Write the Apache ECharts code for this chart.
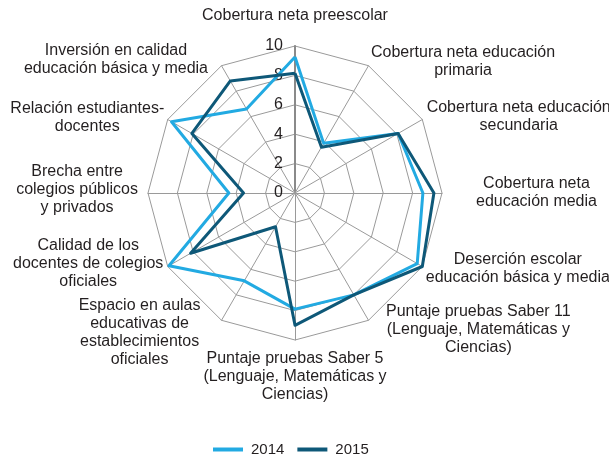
<!DOCTYPE html>
<html>
<head>
<meta charset="utf-8">
<script src="https://cdn.jsdelivr.net/npm/echarts@6/dist/echarts.min.js"></script>
<style>
  html, body { margin: 0; padding: 0; background: #fff; }
  #chart { width: 609px; height: 454px; }
</style>
</head>
<body>
<div id="chart"></div>
<script>
  // indicators, read clockwise starting at the top
  const categories = [
    'Cobertura neta preescolar',
    'Cobertura neta educación\nprimaria',
    'Cobertura neta educación\nsecundaria',
    'Cobertura neta\neducación media',
    'Deserción escolar\neducación básica y media',
    'Puntaje pruebas Saber 11\n(Lenguaje, Matemáticas y\nCiencias)',
    'Puntaje pruebas Saber 5\n(Lenguaje, Matemáticas y\nCiencias)',
    'Espacio en aulas\neducativas de\nestablecimientos\noficiales',
    'Calidad de los\ndocentes de colegios\noficiales',
    'Brecha entre\ncolegios públicos\ny privados',
    'Relación estudiantes-\ndocentes',
    'Inversión en calidad\neducación básica y media'
  ]
  const values2014 = [9.25, 3.9, 8.1, 8.7, 9.6, 8.0, 7.9, 6.9, 9.9, 4.5, 9.7, 6.6]
  const values2015 = [8.15, 3.6, 8.1, 9.45, 10.0, 8.0, 9.0, 2.65, 8.2, 3.5, 8.1, 8.8]
  const seriesNames = ['2014', '2015']
  const axisMax = 10
  const axisStep = 2

  // label placement for each indicator (same clockwise order): gap from the tip, padding
  const nameGaps = [21, 5, 5, 34, 4, 11, 10, 14, 5, 10, 4, 7]
  const namePads = [
    [0, 0, 0, 0], [0, 0, 0, 0], [0, 0, 0, 0], [0, 0, 0, 0],
    [0, 0, 0, 0], [0, 0, 0, 12], [0, 0, 0, 0], [0, 14, 0, 0],
    [0, 0, 10, 0], [0, 0, 6, 0], [0, 0, 0, 0], [0, 10, 0, 0]
  ]

  const colors = ['#22aae2', '#0e5878']
  const textColor = '#231f20'
  const font = 'Liberation Sans, Arial, Helvetica, sans-serif'

  // echarts lays indicators out counter-clockwise, so flip all but the first
  const ccw = arr => [arr[0]].concat(arr.slice(1).reverse())

  const indicator = ccw(categories.map((name, i) => {
    const ind = {
      name: name,
      min: 0,
      max: axisMax,
      nameGap: nameGaps[i],
      nameTextStyle: { padding: namePads[i] }
    }
    if (i === 0) {
      ind.axisLabel = { show: true }
      ind.axisLine = { lineStyle: { color: '#8a8a8a', width: 2 } }
    }
    return ind
  }))

  const chart = echarts.init(document.getElementById('chart'))
  chart.setOption({
    animation: false,
    color: colors,
    textStyle: { fontFamily: font },
    legend: {
      data: seriesNames,
      left: 208,
      top: 437,
      icon: 'rect',
      itemWidth: 30,
      itemHeight: 4,
      itemGap: 13,
      textStyle: { fontSize: 15, color: textColor, fontFamily: font, padding: [0, 0, 0, 3] }
    },
    radar: {
      center: [295, 193],
      radius: 147,
      startAngle: 90,
      shape: 'polygon',
      splitNumber: axisMax / axisStep,
      indicator: indicator,
      axisName: {
        color: textColor,
        fontSize: 16,
        fontFamily: font,
        formatter: name => name.split('\n').map(s => '{c|' + s + '}').join('\n'),
        rich: {
          c: { align: 'center', fontSize: 16, lineHeight: 18, color: textColor, fontFamily: font }
        }
      },
      axisLine: { show: true, lineStyle: { color: '#9a9a9a', width: 1 } },
      splitLine: { lineStyle: { color: '#9a9a9a', width: 1 } },
      splitArea: { show: false },
      axisTick: { show: false },
      axisLabel: { show: false, fontSize: 16, color: textColor, fontFamily: font, margin: 12 }
    },
    series: [
      {
        type: 'radar',
        symbol: 'none',
        lineStyle: { width: 3 },
        data: [
          { name: seriesNames[0], value: ccw(values2014), lineStyle: { color: colors[0], width: 3 }, itemStyle: { color: colors[0] } },
          { name: seriesNames[1], value: ccw(values2015), lineStyle: { color: colors[1], width: 3 }, itemStyle: { color: colors[1] } }
        ]
      }
    ]
  })
</script>
</body>
</html>
